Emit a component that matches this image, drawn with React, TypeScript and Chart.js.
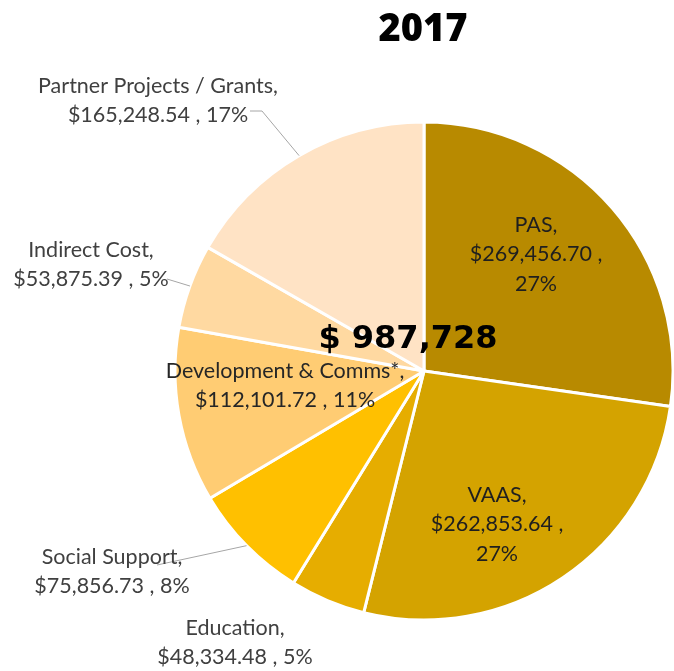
import { useEffect, useRef } from "react";
import { Chart, registerables } from "chart.js";
Chart.register(...registerables);

const titleText = "2017";
const totalLabel = "$ 987,728";
const categories = ["PAS", "VAAS", "Education", "Social Support", "Development & Comms*", "Indirect Cost", "Partner Projects / Grants"];
const amounts = [269456.7, 262853.64, 48334.48, 75856.73, 112101.72, 53875.39, 165248.54];
const percents = ["27%", "27%", "5%", "8%", "11%", "5%", "17%"];
const sliceColors = ["#B88A00", "#D4A300", "#E6AD00", "#FFC000", "#FFCC73", "#FFD9A1", "#FFE3C5"];

const fmtMoney = (v: number) =>
  "$" + v.toLocaleString("en-US", { minimumFractionDigits: 2, maximumFractionDigits: 2 });

// label layout: center x, first line center y, number of lines (3 = percent on its own line), leader path start points
const labelLayout = [
  { x: 536, y: 225, threeLines: true, color: "#1f1f1f", leader: null as null | number[][] },
  { x: 497, y: 495, threeLines: true, color: "#1f1f1f", leader: null },
  { x: 235, y: 628, threeLines: false, color: "#404040", leader: null },
  { x: 112, y: 557, threeLines: false, color: "#404040", leader: [[157, 565]] },
  { x: 285, y: 371, threeLines: false, color: "#262626", leader: null },
  { x: 91, y: 250, threeLines: false, color: "#404040", leader: [[167, 279]] },
  { x: 158, y: 86, threeLines: false, color: "#404040", leader: [[250, 111], [262, 111]] },
];

const labelPlugin = {
  id: "customLabels",
  afterDatasetsDraw(chart: any) {
    const ctx = chart.ctx as CanvasRenderingContext2D;
    const meta = chart.getDatasetMeta(0);
    ctx.save();
    // leader lines
    ctx.strokeStyle = "#A6A6A6";
    ctx.lineWidth = 1;
    meta.data.forEach((arc: any, i: number) => {
      const lay = labelLayout[i];
      if (!lay.leader) return;
      const mid = (arc.startAngle + arc.endAngle) / 2;
      const ex = arc.x + Math.cos(mid) * arc.outerRadius;
      const ey = arc.y + Math.sin(mid) * arc.outerRadius;
      ctx.beginPath();
      lay.leader.forEach((p, k) => (k === 0 ? ctx.moveTo(p[0], p[1]) : ctx.lineTo(p[0], p[1])));
      ctx.lineTo(ex, ey);
      ctx.stroke();
    });
    // labels
    ctx.font = "21.5px Lato, 'Noto Sans', sans-serif";
    ctx.textAlign = "center";
    ctx.textBaseline = "middle";
    categories.forEach((cat, i) => {
      const lay = labelLayout[i];
      const money = fmtMoney(amounts[i]);
      const lines = lay.threeLines
        ? [cat + ",", money + " ,", percents[i]]
        : [cat + ",", money + " , " + percents[i]];
      ctx.fillStyle = lay.color;
      lines.forEach((ln, k) => ctx.fillText(ln, lay.x, lay.y + k * 29.5));
    });
    // center total
    ctx.fillStyle = "#000";
    ctx.font = "bold 32px 'DejaVu Sans', sans-serif";
    ctx.textBaseline = "alphabetic";
    ctx.fillText(totalLabel, 408, 348);
    // title
    ctx.font = "800 38px 'Open Sans', sans-serif";
    ctx.fillText(titleText, 423, 41);
    ctx.restore();
  },
};

export default function App() {
  const ref = useRef<HTMLCanvasElement | null>(null);
  useEffect(() => {
    if (!ref.current) return;
    const chart = new Chart(ref.current, {
      type: "pie",
      data: {
        labels: categories,
        datasets: [
          {
            data: amounts,
            backgroundColor: sliceColors,
            borderColor: "#ffffff",
            borderWidth: 3,
          },
        ],
      },
      options: {
        responsive: false,
        animation: false,
        radius: 249,
        layout: { padding: { left: 176, right: 2, top: 122, bottom: 51 } },
        plugins: {
          legend: { display: false },
          tooltip: { enabled: false },
          title: { display: false },
        },
      } as any,
      plugins: [labelPlugin],
    });
    return () => chart.destroy();
  }, []);
  return (
    <div style={{ position: "absolute", left: 0, top: 0, width: 674, height: 671, background: "#fff" }}>
      <canvas ref={ref} width={674} height={671} style={{ display: "block" }} />
    </div>
  );
}
